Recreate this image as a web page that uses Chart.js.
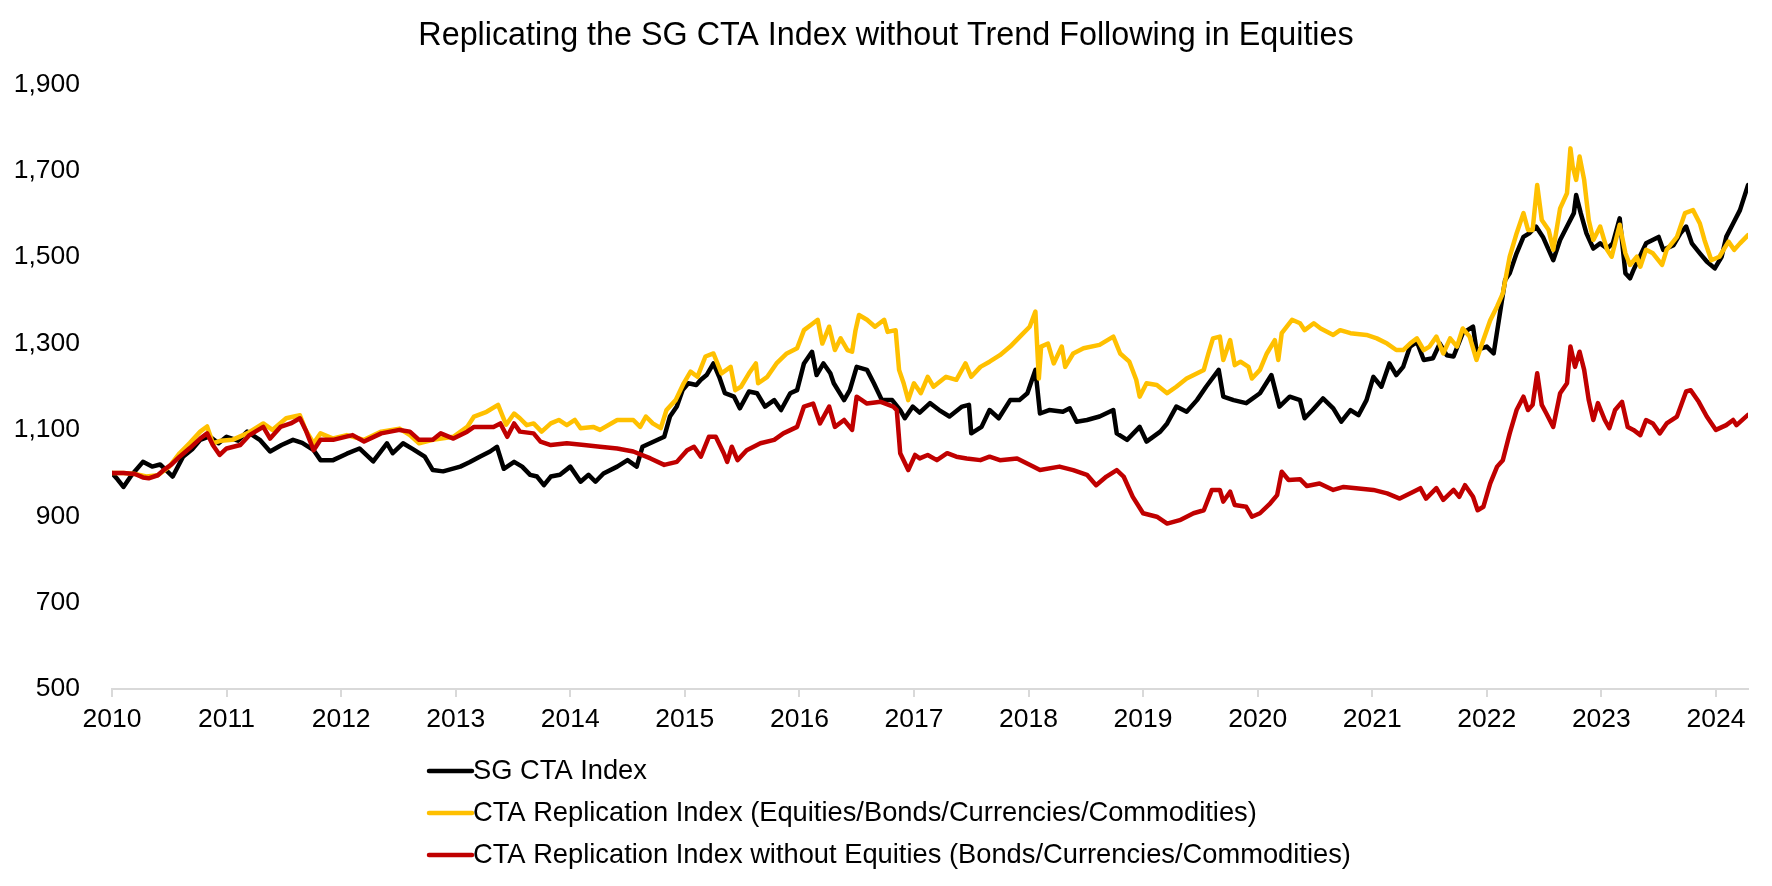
<!DOCTYPE html>
<html lang="en">
<head>
<meta charset="utf-8">
<title>Replicating the SG CTA Index without Trend Following in Equities</title>
<script src="https://cdn.jsdelivr.net/npm/chart.js@4.4.1/dist/chart.umd.min.js"></script>
<style>
  html, body { margin: 0; padding: 0; background: #ffffff; }
  #wrap { width: 1772px; height: 886px; }
</style>
</head>
<body>
<div id="wrap"><canvas id="myChart" width="1772" height="886"></canvas></div>
<script>
'use strict';



// <------------------ DATA ------------------>

let chartTitle = 'Replicating the SG CTA Index without Trend Following in Equities';

let seriesNames = [
  'SG CTA Index',
  'CTA Replication Index (Equities/Bonds/Currencies/Commodities)',
  'CTA Replication Index without Equities (Bonds/Currencies/Commodities)'
];

// [year, index level]
let sgCta = [
  [2010.00, 1000], [2010.05, 985], [2010.10, 968], [2010.17, 995], [2010.27, 1026], [2010.35, 1015],
  [2010.42, 1020], [2010.53, 992], [2010.62, 1038], [2010.70, 1055], [2010.77, 1077], [2010.85, 1085],
  [2010.93, 1069], [2011.00, 1084], [2011.10, 1075], [2011.18, 1096], [2011.29, 1077], [2011.38, 1050],
  [2011.48, 1065], [2011.58, 1077], [2011.66, 1070], [2011.76, 1053], [2011.82, 1030], [2011.93, 1030],
  [2012.05, 1045], [2012.16, 1057], [2012.28, 1027], [2012.40, 1069], [2012.45, 1046], [2012.54, 1069],
  [2012.63, 1055], [2012.73, 1038], [2012.80, 1007], [2012.89, 1004], [2013.04, 1015], [2013.12, 1025],
  [2013.21, 1038], [2013.30, 1050], [2013.36, 1061], [2013.42, 1010], [2013.51, 1026], [2013.58, 1015],
  [2013.65, 996], [2013.71, 992], [2013.77, 972], [2013.83, 992], [2013.91, 996], [2014.00, 1015],
  [2014.09, 980], [2014.16, 996], [2014.22, 980], [2014.29, 999], [2014.41, 1015], [2014.50, 1030],
  [2014.58, 1015], [2014.63, 1061], [2014.73, 1073], [2014.82, 1084], [2014.87, 1131], [2014.93, 1154],
  [2014.98, 1192], [2015.03, 1208], [2015.10, 1204], [2015.14, 1216], [2015.19, 1227], [2015.25, 1254],
  [2015.30, 1223], [2015.35, 1185], [2015.43, 1177], [2015.48, 1150], [2015.56, 1189], [2015.63, 1185],
  [2015.70, 1154], [2015.78, 1169], [2015.84, 1146], [2015.92, 1185], [2015.98, 1192], [2016.04, 1254],
  [2016.11, 1281], [2016.15, 1227], [2016.21, 1254], [2016.27, 1231], [2016.30, 1208], [2016.39, 1169],
  [2016.44, 1192], [2016.50, 1246], [2016.59, 1239], [2016.65, 1208], [2016.72, 1169], [2016.81, 1169],
  [2016.88, 1146], [2016.92, 1127], [2016.99, 1154], [2017.05, 1140], [2017.14, 1162], [2017.22, 1146],
  [2017.31, 1131], [2017.42, 1154], [2017.48, 1158], [2017.50, 1092], [2017.59, 1107], [2017.66, 1146],
  [2017.74, 1127], [2017.84, 1169], [2017.92, 1169], [2017.99, 1185], [2018.06, 1239], [2018.10, 1138],
  [2018.18, 1146], [2018.30, 1142], [2018.36, 1150], [2018.42, 1119], [2018.51, 1123], [2018.62, 1131],
  [2018.74, 1146], [2018.77, 1092], [2018.86, 1077], [2018.97, 1107], [2019.03, 1073], [2019.15, 1096],
  [2019.21, 1115], [2019.29, 1154], [2019.38, 1142], [2019.47, 1169], [2019.55, 1200], [2019.66, 1239],
  [2019.70, 1177], [2019.79, 1169], [2019.90, 1162], [2020.02, 1185], [2020.12, 1227], [2020.19, 1154],
  [2020.28, 1177], [2020.37, 1169], [2020.41, 1127], [2020.48, 1146], [2020.57, 1173], [2020.66, 1150],
  [2020.73, 1119], [2020.81, 1146], [2020.88, 1134], [2020.95, 1169], [2021.01, 1223], [2021.08, 1200],
  [2021.15, 1254], [2021.21, 1227], [2021.27, 1246], [2021.33, 1293], [2021.39, 1304], [2021.45, 1262],
  [2021.53, 1266], [2021.59, 1300], [2021.65, 1273], [2021.71, 1270], [2021.79, 1324], [2021.88, 1339],
  [2021.91, 1285], [2022.00, 1293], [2022.06, 1277], [2022.11, 1362], [2022.16, 1447], [2022.20, 1463],
  [2022.26, 1509], [2022.32, 1547], [2022.37, 1555], [2022.43, 1571], [2022.49, 1547], [2022.58, 1493],
  [2022.64, 1540], [2022.70, 1571], [2022.76, 1602], [2022.78, 1644], [2022.82, 1602], [2022.87, 1555],
  [2022.93, 1520], [2022.99, 1532], [2023.05, 1520], [2023.10, 1532], [2023.16, 1590], [2023.21, 1463],
  [2023.25, 1451], [2023.28, 1470], [2023.39, 1532], [2023.50, 1547], [2023.54, 1517], [2023.63, 1528],
  [2023.69, 1555], [2023.74, 1571], [2023.79, 1532], [2023.86, 1509], [2023.92, 1490], [2023.99, 1474],
  [2024.05, 1501], [2024.09, 1547], [2024.15, 1578], [2024.21, 1609], [2024.28, 1667]
];

let ctaReplication = [
  [2010.00, 1000], [2010.10, 1000], [2010.20, 998], [2010.30, 992], [2010.40, 995], [2010.50, 1015],
  [2010.59, 1046], [2010.68, 1070], [2010.77, 1096], [2010.83, 1108], [2010.88, 1069], [2010.95, 1075],
  [2011.05, 1077], [2011.18, 1092], [2011.32, 1115], [2011.40, 1100], [2011.52, 1127], [2011.64, 1134],
  [2011.69, 1100], [2011.76, 1069], [2011.82, 1092], [2011.93, 1080], [2012.05, 1088], [2012.20, 1077],
  [2012.35, 1096], [2012.51, 1103], [2012.60, 1088], [2012.68, 1069], [2012.80, 1077], [2012.98, 1084],
  [2013.10, 1107], [2013.16, 1131], [2013.27, 1142], [2013.37, 1158], [2013.44, 1112], [2013.51, 1138],
  [2013.56, 1127], [2013.62, 1111], [2013.68, 1115], [2013.75, 1096], [2013.83, 1115], [2013.90, 1123],
  [2013.97, 1111], [2014.04, 1123], [2014.09, 1104], [2014.20, 1107], [2014.26, 1100], [2014.41, 1123],
  [2014.55, 1123], [2014.61, 1107], [2014.66, 1131], [2014.72, 1115], [2014.79, 1104], [2014.84, 1146],
  [2014.92, 1169], [2014.99, 1208], [2015.05, 1235], [2015.11, 1223], [2015.18, 1270], [2015.25, 1277],
  [2015.32, 1231], [2015.40, 1246], [2015.44, 1192], [2015.49, 1200], [2015.56, 1231], [2015.62, 1254],
  [2015.64, 1208], [2015.72, 1223], [2015.80, 1254], [2015.89, 1277], [2015.98, 1289], [2016.04, 1331],
  [2016.12, 1347], [2016.16, 1355], [2016.20, 1300], [2016.26, 1339], [2016.31, 1285], [2016.36, 1312],
  [2016.42, 1285], [2016.46, 1281], [2016.49, 1331], [2016.52, 1366], [2016.59, 1355], [2016.66, 1339],
  [2016.74, 1355], [2016.77, 1327], [2016.84, 1331], [2016.87, 1239], [2016.91, 1208], [2016.95, 1169],
  [2017.00, 1208], [2017.06, 1185], [2017.12, 1223], [2017.17, 1200], [2017.28, 1223], [2017.37, 1216],
  [2017.45, 1254], [2017.50, 1223], [2017.58, 1246], [2017.66, 1258], [2017.75, 1273], [2017.84, 1293],
  [2017.94, 1320], [2018.01, 1339], [2018.06, 1374], [2018.09, 1219], [2018.11, 1293], [2018.17, 1300],
  [2018.22, 1254], [2018.29, 1293], [2018.32, 1246], [2018.39, 1277], [2018.48, 1289], [2018.62, 1297],
  [2018.74, 1316], [2018.80, 1277], [2018.88, 1258], [2018.94, 1216], [2018.97, 1177], [2019.03, 1208],
  [2019.12, 1204], [2019.21, 1185], [2019.29, 1200], [2019.38, 1219], [2019.53, 1239], [2019.57, 1277],
  [2019.61, 1312], [2019.67, 1316], [2019.70, 1262], [2019.76, 1308], [2019.80, 1250], [2019.85, 1258],
  [2019.92, 1246], [2019.95, 1219], [2020.02, 1239], [2020.08, 1277], [2020.15, 1308], [2020.18, 1262],
  [2020.21, 1324], [2020.30, 1355], [2020.37, 1347], [2020.41, 1331], [2020.49, 1347], [2020.55, 1335],
  [2020.66, 1320], [2020.72, 1331], [2020.81, 1324], [2020.95, 1320], [2021.04, 1312], [2021.13, 1300],
  [2021.21, 1285], [2021.27, 1285], [2021.33, 1300], [2021.39, 1312], [2021.45, 1285], [2021.50, 1293],
  [2021.56, 1316], [2021.62, 1277], [2021.68, 1312], [2021.74, 1293], [2021.79, 1335], [2021.85, 1316],
  [2021.91, 1262], [2021.95, 1293], [2022.03, 1354], [2022.09, 1386], [2022.14, 1416], [2022.20, 1501],
  [2022.26, 1555], [2022.32, 1602], [2022.36, 1563], [2022.40, 1563], [2022.44, 1667], [2022.48, 1586],
  [2022.54, 1563], [2022.58, 1517], [2022.64, 1613], [2022.70, 1648], [2022.73, 1752], [2022.75, 1710],
  [2022.78, 1679], [2022.81, 1733], [2022.85, 1679], [2022.89, 1586], [2022.93, 1540], [2022.99, 1571],
  [2023.05, 1517], [2023.09, 1501], [2023.16, 1575], [2023.21, 1509], [2023.25, 1482], [2023.31, 1501],
  [2023.34, 1478], [2023.39, 1517], [2023.45, 1509], [2023.53, 1482], [2023.57, 1517], [2023.66, 1547],
  [2023.73, 1602], [2023.80, 1609], [2023.86, 1578], [2023.90, 1540], [2023.96, 1493], [2024.03, 1501],
  [2024.11, 1536], [2024.16, 1517], [2024.21, 1532], [2024.28, 1551]
];

let ctaNoEquities = [
  [2010.00, 1000], [2010.10, 1000], [2010.20, 998], [2010.27, 990], [2010.32, 988], [2010.40, 995],
  [2010.45, 1007], [2010.52, 1020], [2010.59, 1038], [2010.68, 1058], [2010.77, 1080], [2010.83, 1092],
  [2010.88, 1065], [2010.94, 1042], [2011.00, 1057], [2011.12, 1065], [2011.20, 1088], [2011.32, 1107],
  [2011.38, 1080], [2011.47, 1107], [2011.56, 1115], [2011.64, 1127], [2011.69, 1100], [2011.76, 1053],
  [2011.82, 1077], [2011.93, 1077], [2012.10, 1088], [2012.20, 1073], [2012.35, 1092], [2012.51, 1100],
  [2012.60, 1096], [2012.68, 1077], [2012.80, 1077], [2012.87, 1092], [2012.98, 1080], [2013.10, 1096],
  [2013.16, 1107], [2013.33, 1107], [2013.39, 1115], [2013.45, 1084], [2013.51, 1115], [2013.56, 1096],
  [2013.68, 1092], [2013.74, 1073], [2013.83, 1065], [2013.97, 1069], [2014.12, 1065], [2014.26, 1061],
  [2014.41, 1057], [2014.55, 1050], [2014.70, 1034], [2014.82, 1019], [2014.93, 1026], [2015.02, 1053],
  [2015.08, 1061], [2015.14, 1038], [2015.21, 1084], [2015.27, 1084], [2015.34, 1046], [2015.37, 1026],
  [2015.41, 1061], [2015.46, 1030], [2015.54, 1053], [2015.66, 1069], [2015.78, 1077], [2015.86, 1092],
  [2015.98, 1107], [2016.04, 1154], [2016.12, 1161], [2016.18, 1115], [2016.26, 1154], [2016.31, 1107],
  [2016.39, 1123], [2016.46, 1100], [2016.50, 1177], [2016.59, 1161], [2016.71, 1165], [2016.82, 1154],
  [2016.85, 1146], [2016.88, 1046], [2016.95, 1007], [2017.01, 1042], [2017.05, 1034], [2017.12, 1042],
  [2017.20, 1030], [2017.29, 1046], [2017.37, 1038], [2017.46, 1034], [2017.58, 1030], [2017.66, 1038],
  [2017.75, 1030], [2017.90, 1034], [2018.04, 1015], [2018.10, 1007], [2018.27, 1015], [2018.39, 1007],
  [2018.51, 996], [2018.59, 972], [2018.68, 992], [2018.77, 1007], [2018.83, 992], [2018.91, 945],
  [2019.00, 907], [2019.12, 899], [2019.21, 883], [2019.32, 891], [2019.44, 907], [2019.53, 914],
  [2019.60, 961], [2019.67, 961], [2019.70, 934], [2019.76, 957], [2019.80, 926], [2019.90, 922],
  [2019.95, 899], [2020.02, 907], [2020.11, 930], [2020.17, 949], [2020.21, 1003], [2020.27, 984],
  [2020.37, 986], [2020.43, 970], [2020.54, 976], [2020.66, 961], [2020.75, 968], [2020.86, 965],
  [2021.01, 961], [2021.13, 953], [2021.24, 941], [2021.36, 957], [2021.42, 965], [2021.47, 941],
  [2021.56, 965], [2021.62, 938], [2021.71, 961], [2021.76, 945], [2021.81, 972], [2021.88, 945],
  [2021.92, 914], [2021.97, 922], [2022.03, 976], [2022.09, 1015], [2022.14, 1030], [2022.20, 1092],
  [2022.26, 1146], [2022.32, 1177], [2022.36, 1146], [2022.40, 1158], [2022.44, 1231], [2022.48, 1158],
  [2022.52, 1138], [2022.58, 1107], [2022.64, 1185], [2022.70, 1208], [2022.73, 1293], [2022.77, 1246],
  [2022.81, 1281], [2022.85, 1239], [2022.89, 1169], [2022.93, 1123], [2022.97, 1162], [2023.03, 1123],
  [2023.07, 1104], [2023.12, 1146], [2023.18, 1165], [2023.23, 1107], [2023.28, 1100], [2023.34, 1088],
  [2023.39, 1123], [2023.45, 1115], [2023.51, 1092], [2023.57, 1115], [2023.66, 1131], [2023.74, 1189],
  [2023.78, 1192], [2023.85, 1165], [2023.92, 1131], [2024.00, 1100], [2024.09, 1111], [2024.15, 1123],
  [2024.18, 1111], [2024.28, 1135]
];

let yearRange = [2010, 2024.28];
let valueRange = [500, 1900];
let valueStep = 200;



// <------------------ STYLE ------------------>

let fontFamily = '"Liberation Sans", Arial, Helvetica, sans-serif';
let lineColors = ['#000000', '#ffc000', '#c00000'];

Chart.defaults.font.family = fontFamily;
Chart.defaults.color = '#000000';



// <------------------ HELPER FUNCTIONS ------------------>

function toPoints(pairs) {
  let points = [];
  for (let i = 0; i < pairs.length; i++) {
    points.push({ x: pairs[i][0], y: pairs[i][1] });
  }
  return points;
}


// legend stacked one item per row under the axis, like the original
let stackedLegend = {
  id: 'stackedLegend',
  afterLayout(chart) {
    // let the y labels use the space left of the axis box (title stays centred)
    chart.scales.y.left = 0;
  },
  afterDraw(chart) {
    let ctx = chart.ctx;
    let left = 429;
    let top = 771;
    let rowGap = 42;
    ctx.save();
    ctx.font = '27.3px ' + fontFamily;
    ctx.textBaseline = 'middle';
    ctx.textAlign = 'left';
    chart.data.datasets.forEach(function (ds, i) {
      let y = top + i * rowGap;
      ctx.strokeStyle = ds.borderColor;
      ctx.lineWidth = 4.5;
      ctx.lineCap = 'round';
      ctx.beginPath();
      ctx.moveTo(left, y);
      ctx.lineTo(left + 43, y);
      ctx.stroke();
      ctx.fillStyle = '#000000';
      ctx.fillText(ds.label, left + 44, y);
    });
    ctx.restore();
  }
};



// <------------------ CHART ------------------>

let ctx = document.getElementById('myChart').getContext('2d');

let allSeries = [sgCta, ctaReplication, ctaNoEquities];
let datasets = [];
for (let i = 0; i < allSeries.length; i++) {
  datasets.push({
    label: seriesNames[i],
    data: toPoints(allSeries[i]),
    borderColor: lineColors[i],
    backgroundColor: lineColors[i],
    borderWidth: 4.5,
    pointRadius: 0,
    tension: 0,
    borderJoinStyle: 'round',
    borderCapStyle: 'round',
    // excel draws the last series on top
    order: allSeries.length - i
  });
}

let myChartObj = {
  type: 'line',
  data: { datasets: datasets },
  options: {
    responsive: false,
    animation: false,
    layout: {
      padding: { left: 24, right: 24, top: 10, bottom: 147 }
    },
    plugins: {
      legend: { display: false },
      tooltip: { enabled: false },
      title: {
        display: true,
        text: chartTitle,
        color: '#000000',
        font: { size: 32.3, weight: 'normal' },
        padding: { top: 7, bottom: 28.7 }
      }
    },
    scales: {
      x: {
        type: 'linear',
        min: yearRange[0],
        max: yearRange[1],
        border: { color: '#d9d9d9', width: 2 },
        grid: { drawOnChartArea: false, color: '#d9d9d9', lineWidth: 2, tickLength: 8 },
        ticks: {
          stepSize: 1,
          includeBounds: false,
          autoSkip: false,
          maxRotation: 0,
          padding: 6.5,
          font: { size: 26.5 },
          callback: function (value) { return String(value); }
        },
        afterFit: function (scale) { scale.height = 50; }
      },
      y: {
        min: valueRange[0],
        max: valueRange[1],
        border: { display: false },
        grid: { display: false, drawTicks: false },
        ticks: {
          stepSize: valueStep,
          padding: 32,
          font: { size: 26.5 },
          callback: function (value) { return value.toLocaleString('en-US'); }
        },
        afterFit: function (scale) { scale.width = 88; }
      }
    }
  },
  plugins: [stackedLegend]
};

const myChart = new Chart(ctx, myChartObj);
</script>
</body>
</html>
